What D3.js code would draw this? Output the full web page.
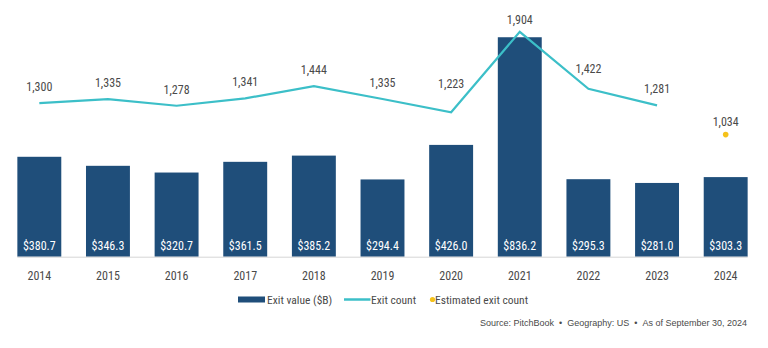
<!DOCTYPE html>
<html>
<head>
<meta charset="utf-8">
<script src="https://cdn.jsdelivr.net/npm/d3@7"></script>
<style>
  body { margin: 0; background: #fff; }
  text { font-family: "Liberation Sans Narrow", "Roboto Condensed", "Liberation Sans", sans-serif; }
</style>
</head>
<body>
<div id="chart"></div>
<script>
// Exit value and exit count by year
var years = ['2014', '2015', '2016', '2017', '2018', '2019', '2020', '2021', '2022', '2023', '2024'];
var exitValue = [380.7, 346.3, 320.7, 361.5, 385.2, 294.4, 426.0, 836.2, 295.3, 281.0, 303.3];
var exitCount = [1300, 1335, 1278, 1341, 1444, 1335, 1223, 1904, 1422, 1281];
var estYear = '2024';
var estCount = 1034;

var svgWidth = 768;
var svgHeight = 348;
var barColor = '#1f4e7a';
var lineColor = '#3cbfc8';
var dotColor = '#f5c21b';
var textColor = '#4a4a4a';

var svg = d3.select('#chart')
    .append('svg')
    .attr('width', svgWidth)
    .attr('height', svgHeight);

var plotTop = 20.5;
var plotBottom = 256.7;

var xScale = d3.scaleBand()
    .domain(years)
    .range([5, 760])
    .paddingInner(0.36)
    .paddingOuter(0.18);
var yValue = d3.scaleLinear().domain([0, 900]).range([plotBottom, plotTop]);
var yCount = d3.scaleLinear().domain([0, 2000]).range([plotBottom, plotTop]);
var cx = d => xScale(d) + xScale.bandwidth() / 2;

// bars
svg.selectAll('rect.bar')
    .data(years)
    .enter()
    .append('rect')
    .attr('class', 'bar')
    .attr('x', d => xScale(d))
    .attr('width', xScale.bandwidth())
    .attr('y', (d, i) => yValue(exitValue[i]))
    .attr('height', (d, i) => plotBottom - yValue(exitValue[i]))
    .attr('fill', barColor);

// baseline
svg.append('line')
    .attr('x1', xScale(years[0]))
    .attr('x2', xScale(years[years.length - 1]) + xScale.bandwidth())
    .attr('y1', plotBottom + 0.5)
    .attr('y2', plotBottom + 0.5)
    .attr('stroke', '#d6d6d6')
    .attr('stroke-width', 1);

// bar value labels
svg.selectAll('text.val')
    .data(years)
    .enter()
    .append('text')
    .attr('class', 'val')
    .attr('x', d => cx(d))
    .attr('y', plotBottom - 7)
    .attr('text-anchor', 'middle')
    .attr('font-size', '12px')
    .attr('fill', '#fff')
    .text((d, i) => '$' + exitValue[i].toFixed(1));

// x axis labels
var xAxis = svg.append('g')
    .attr('transform', `translate(0, ${plotBottom})`)
    .call(d3.axisBottom(xScale).tickSize(0).tickPadding(15));
xAxis.select('.domain').remove();
xAxis.selectAll('text')
    .attr('font-size', '12px')
    .attr('fill', textColor)
    .style('font-family', '"Liberation Sans Narrow", "Roboto Condensed", "Liberation Sans", sans-serif');

// exit count line
var countYears = years.slice(0, exitCount.length);
var line = d3.line()
    .x(d => cx(d))
    .y((d, i) => yCount(exitCount[i]));
svg.append('path')
    .datum(countYears)
    .attr('d', line)
    .attr('fill', 'none')
    .attr('stroke', lineColor)
    .attr('stroke-width', 2.2);

// count labels (some nudged off the line)
var lift = { '2020': 12, '2021': -4, '2022': 4 };
svg.selectAll('text.cnt')
    .data(countYears)
    .enter()
    .append('text')
    .attr('class', 'cnt')
    .attr('x', d => cx(d))
    .attr('y', (d, i) => yCount(exitCount[i]) - 12 - (lift[d] || 0))
    .attr('text-anchor', 'middle')
    .attr('font-size', '12px')
    .attr('fill', textColor)
    .text((d, i) => d3.format(',')(exitCount[i]));

// estimated count
svg.append('circle')
    .attr('cx', cx(estYear))
    .attr('cy', yCount(estCount))
    .attr('r', 2.8)
    .attr('fill', dotColor);
svg.append('text')
    .attr('x', cx(estYear))
    .attr('y', yCount(estCount) - 9)
    .attr('text-anchor', 'middle')
    .attr('font-size', '12px')
    .attr('fill', textColor)
    .text(d3.format(',')(estCount));

// legend
var legend = svg.append('g').attr('transform', 'translate(0, 299.5)');
legend.append('rect')
    .attr('x', 238).attr('y', -3).attr('width', 27).attr('height', 6)
    .attr('fill', barColor);
legend.append('text')
    .attr('x', 267).attr('y', 4.5)
    .attr('font-size', '11.5px').attr('fill', textColor)
    .text('Exit value ($B)');
legend.append('line')
    .attr('x1', 344).attr('x2', 370.5).attr('y1', 0).attr('y2', 0)
    .attr('stroke', lineColor).attr('stroke-width', 2.5);
legend.append('text')
    .attr('x', 371).attr('y', 4.5)
    .attr('font-size', '11.5px').attr('fill', textColor)
    .text('Exit count');
legend.append('circle')
    .attr('cx', 432.5).attr('cy', 0).attr('r', 2.6)
    .attr('fill', dotColor);
legend.append('text')
    .attr('x', 435).attr('y', 4.5)
    .attr('font-size', '11.5px').attr('fill', textColor)
    .text('Estimated exit count');

// source note
svg.append('text')
    .attr('x', 747)
    .attr('y', 326)
    .attr('text-anchor', 'end')
    .attr('font-size', '9px')
    .attr('fill', textColor)
    .style('font-family', '"Liberation Sans", sans-serif')
    .text('Source: PitchBook\u00a0\u00a0\u2022\u00a0\u00a0Geography: US\u00a0\u00a0\u2022\u00a0\u00a0As of September 30, 2024');
</script>
</body>
</html>
